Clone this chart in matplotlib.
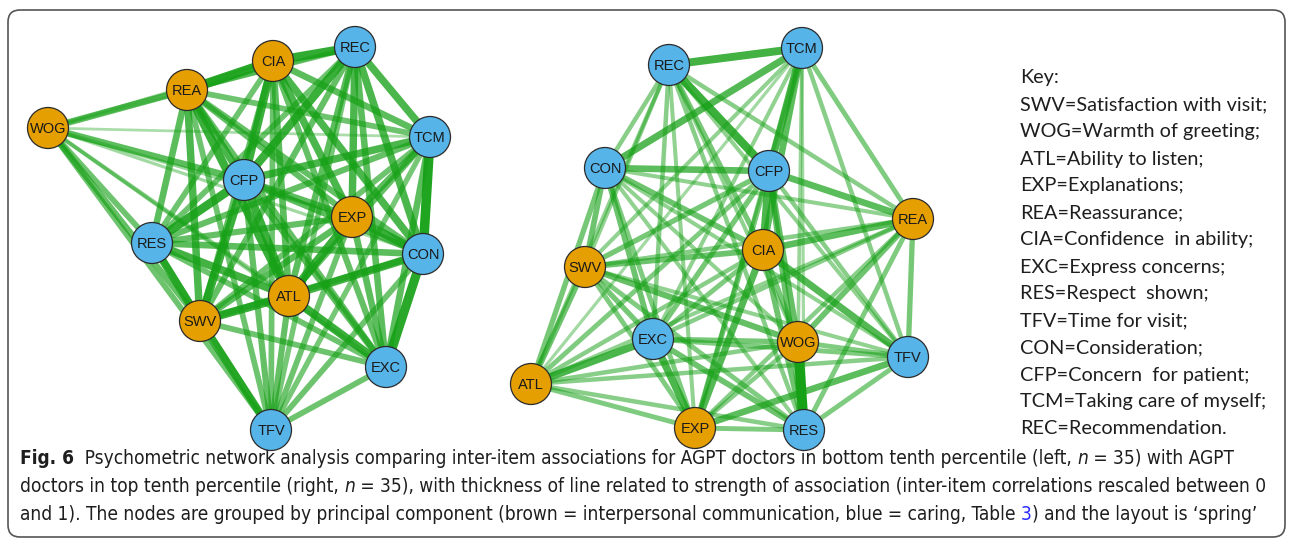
import matplotlib
matplotlib.use('Agg')
import matplotlib.pyplot as plt
from matplotlib.patches import Circle, FancyBboxPatch
from matplotlib import font_manager

# node order used for all the weight tables below
nodes = ['SWV', 'WOG', 'ATL', 'EXP', 'REA', 'CIA', 'EXC', 'RES', 'TFV', 'CON', 'CFP', 'TCM', 'REC']
group = ['comm', 'comm', 'comm', 'comm', 'comm', 'comm',
         'care', 'care', 'care', 'care', 'care', 'care', 'care']

# spring layout positions (pixel units)
left_x = [200, 48, 289, 352, 187, 273, 386, 152, 271, 423, 244, 430, 355]
left_y = [321, 128, 296, 217, 90, 61, 367, 243, 430, 254, 180, 137, 47]
right_x = [585, 798, 531, 695, 913, 763, 653, 804, 908, 605, 769, 802, 669]
right_y = [267, 342, 384, 428, 219, 250, 339, 430, 357, 168, 171, 48, 65]

# rescaled inter-item correlations, upper triangle row by row
left_w = [
    [0.55, 0.80, 0.60, 0.70, 0.55, 0.50, 0.75, 0.75, 0.55, 0.80, 0.50, 0.55],
    [0.30, 0.25, 0.60, 0.20, 0.25, 0.50, 0.50, 0.20, 0.60, 0.15, 0.20],
    [0.80, 0.80, 0.60, 0.80, 0.75, 0.55, 0.75, 0.80, 0.55, 0.60],
    [0.55, 0.70, 0.60, 0.55, 0.50, 0.80, 0.60, 0.60, 0.70],
    [0.90, 0.55, 0.60, 0.50, 0.55, 0.70, 0.50, 0.45],
    [0.55, 0.50, 0.50, 0.70, 0.80, 0.60, 0.85],
    [0.50, 0.50, 0.90, 0.60, 0.60, 0.60],
    [0.55, 0.60, 0.85, 0.55, 0.50],
    [0.50, 0.55, 0.45, 0.45],
    [0.60, 0.95, 0.70],
    [0.70, 0.80],
    [0.70],
]
right_w = [
    [0.55, 0.50, 0.40, 0.35, 0.50, 0.45, 0.40, 0.30, 0.50, 0.45, 0.30, 0.30],
    [0.35, 0.35, 0.50, 0.45, 0.45, 1.00, 0.40, 0.30, 0.55, 0.25, 0.30],
    [0.40, 0.30, 0.35, 0.70, 0.35, 0.35, 0.45, 0.40, 0.20, 0.30],
    [0.35, 0.65, 0.70, 0.40, 0.60, 0.40, 0.45, 0.30, 0.30],
    [0.60, 0.35, 0.40, 0.45, 0.30, 0.60, 0.40, 0.35],
    [0.40, 0.50, 0.65, 0.50, 0.70, 0.60, 0.45],
    [0.50, 0.40, 0.50, 0.45, 0.30, 0.35],
    [0.40, 0.30, 0.50, 0.20, 0.35],
    [0.30, 0.35, 0.35, 0.30],
    [0.60, 0.65, 0.35],
    [0.70, 0.80],
    [0.75],
]

key_lines = ['Key:', 'SWV=Satisfaction with visit;', 'WOG=Warmth of greeting;',
             'ATL=Ability to listen;', 'EXP=Explanations;', 'REA=Reassurance;',
             'CIA=Confidence  in ability;', 'EXC=Express concerns;', 'RES=Respect  shown;',
             'TFV=Time for visit;', 'CON=Consideration;', 'CFP=Concern  for patient;',
             'TCM=Taking care of myself;', 'REC=Recommendation.']

node_col = {'comm': '#E69F00', 'care': '#56B4E9'}


def pick(fams):
    for f in fams:
        try:
            font_manager.findfont(f, fallback_to_default=False)
            return f
        except Exception:
            pass
    return 'DejaVu Sans'


key_font = pick(['Lato', 'Open Sans'])
node_font = pick(['Liberation Sans', 'DejaVu Sans'])
cap_font = 'DejaVu Sans'
cap_stretch = 'condensed'

W, H = 1292, 545
fig = plt.figure(figsize=(W / 100, H / 100), dpi=100)
ax = fig.add_axes([0, 0, 1, 1])
ax.set_xlim(0, W)
ax.set_ylim(H, 0)
ax.axis('off')

ax.add_patch(FancyBboxPatch((8, 10), 1277, 527, boxstyle='round,pad=0,rounding_size=12',
                            fc='none', ec='#555555', lw=1.2))


def draw_net(xs, ys, wtab):
    edges = []
    for i in range(len(wtab)):
        for k, w in enumerate(wtab[i]):
            edges.append((w, i, i + 1 + k))
    edges.sort()
    for w, i, j in edges:
        alpha = min(1.0, 0.25 + 0.75 * w)
        ax.plot([xs[i], xs[j]], [ys[i], ys[j]], color=(0.09, 0.63, 0.09, alpha),
                lw=(1.5 + 8.5 * w) * 0.72, solid_capstyle='butt', zorder=1 + w)
    for n, x, y, g in zip(nodes, xs, ys, group):
        ax.add_patch(Circle((x, y), 20.5, fc=node_col[g], ec='#2b2b2b', lw=0.9, zorder=5))
        ax.text(x, y + 1, n, ha='center', va='center', fontsize=10.5, family=node_font,
                color='#1a1a1a', zorder=6)


draw_net(left_x, left_y, left_w)
draw_net(right_x, right_y, right_w)

renderer = fig.canvas.get_renderer()


def fit_size(s, target, **kw):
    t = ax.text(0, 0, s, fontsize=10, **kw)
    wpx = t.get_window_extent(renderer).width
    t.remove()
    return 10 * target / wpx


# key on the right
ks = fit_size('SWV=Satisfaction with visit;', 248, family=key_font)
for n, s in enumerate(key_lines):
    ax.text(1020, 78 + 27 * n, s, fontsize=ks, family=key_font, va='center', ha='left',
            color='#1e1e1e')

# caption
cap = dict(family=cap_font, stretch=cap_stretch)
cs = fit_size('doctors in top tenth percentile (right, n = 35), with thickness of line related to '
              'strength of association (inter-item correlations rescaled between 0', 1242, **cap)


def segs(first_text, parts):
    prev = first_text
    for s, kw in parts:
        props = dict(fontsize=cs, color='#1e1e1e', **cap)
        props.update(kw)
        prev = ax.annotate(s, xy=(1, 0), xycoords=prev, va='bottom', ha='left', **props)
    return prev


t0 = ax.text(20, 464, 'Fig. 6', fontsize=cs, weight='bold', color='#1e1e1e',
             va='baseline', **cap)
segs(t0, [('  Psychometric network analysis comparing inter-item associations for AGPT doctors '
           'in bottom tenth percentile (left, ', {}), ('n', {'style': 'italic'}),
          (' = 35) with AGPT', {})])

t1 = ax.text(20, 492, 'doctors in top tenth percentile (right, ', fontsize=cs, color='#1e1e1e',
             va='baseline', **cap)
segs(t1, [('n', {'style': 'italic'}),
          (' = 35), with thickness of line related to strength of association '
           '(inter-item correlations rescaled between 0', {})])

t2 = ax.text(20, 520, 'and 1). The nodes are grouped by principal component (brown = interpersonal '
             'communication, blue = caring, Table ', fontsize=cs, color='#1e1e1e',
             va='baseline', **cap)
segs(t2, [('3', {'color': '#2a2aff'}), (') and the layout is \u2018spring\u2019', {})])

fig.savefig('out.png', dpi=100)
